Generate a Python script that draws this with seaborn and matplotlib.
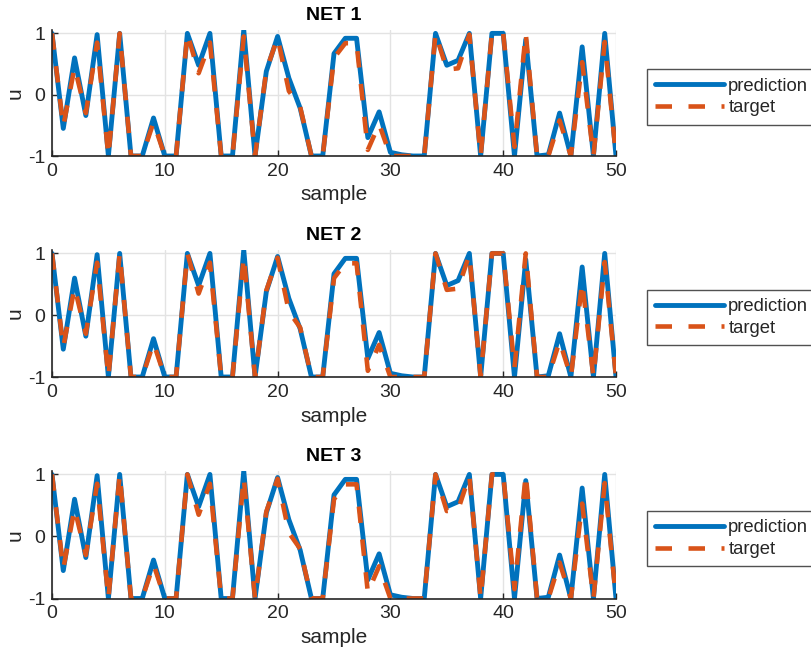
import matplotlib
matplotlib.use("Agg")
import matplotlib.pyplot as plt
import numpy as np
import pandas as pd
import seaborn as sns

# ---- data ----
net_names = ["NET 1", "NET 2", "NET 3"]
sample = list(range(51))
prediction = [1.0, -0.55, 0.6, -0.34, 0.98, -1.0, 1.0, -1.0, -1.0, -0.38,
              -1.0, -1.0, 1.0, 0.48, 1.0, -1.0, -1.0, 1.055, -1.0, 0.38,
              0.95, 0.27, -0.22, -1.0, -1.0, 0.67, 0.92, 0.92, -0.7, -0.28,
              -0.94, -0.98, -1.0, -1.0, 1.0, 0.48, 0.56, 1.0, -1.0, 1.0,
              1.0, -1.0, 0.9, -1.0, -0.98, -0.3, -1.0, 0.78, -1.0, 1.0, -1.0]
target = [1.0, -0.52, 0.45, -0.3, 0.85, -1.0, 1.0, -1.0, -1.0, -0.45,
          -1.0, -1.0, 1.0, 0.35, 0.85, -1.0, -1.0, 0.95, -1.0, 0.4,
          0.93, 0.06, -0.2, -1.0, -1.0, 0.6, 0.84, 0.84, -0.9, -0.48,
          -1.0, -1.0, -1.0, -1.0, 1.0, 0.41, 0.43, 0.98, -1.0, 1.0,
          1.0, -0.85, 1.0, -1.0, -1.0, -0.42, -1.0, 0.53, -1.0, 0.86, -1.0]
x_ticks = [0, 10, 20, 30, 40, 50]
y_ticks = [-1, 0, 1]

sns.set_theme(style="white")
plt.rcParams["font.family"] = ["Liberation Sans", "DejaVu Sans"]
plt.rcParams["axes.unicode_minus"] = False

BLUE = "#0072BD"
ORANGE = "#D95319"
AXC = "#262626"

fig = plt.figure(figsize=(8.11, 6.62), dpi=100)
W, H = 811, 662
left, right = 52, 616
panels = [(30, 156), (250, 377), (471, 598.5)]

df = pd.DataFrame({"sample": sample, "prediction": prediction, "target": target})

for name, (top, bot) in zip(net_names, panels):
    ax = fig.add_axes([left / W, 1 - bot / H, (right - left) / W, (bot - top) / H])
    sns.lineplot(data=df, x="sample", y="prediction", ax=ax, color=BLUE,
                 linewidth=3.5, label="prediction")
    sns.lineplot(data=df, x="sample", y="target", ax=ax, color=ORANGE,
                 linewidth=3.3, label="target")
    ax.lines[-1].set_dashes((3.6, 3.6))
    ax.set_xlim(0, 50)
    ax.set_ylim(-1, max(max(prediction), max(target)))
    ax.set_xticks(x_ticks)
    ax.set_yticks(y_ticks)
    ax.grid(True, color="#e3e3e3", linewidth=1)
    ax.set_axisbelow(True)
    for s in ["top", "right"]:
        ax.spines[s].set_visible(False)
    for s in ["left", "bottom"]:
        ax.spines[s].set_color(AXC)
        ax.spines[s].set_linewidth(1.2)
    ax.tick_params(axis="both", direction="in", length=4, width=1, colors=AXC,
                   labelsize=14, labelcolor=AXC, pad=5, left=True, bottom=True)
    ax.set_xlabel("sample", fontsize=15, color=AXC, labelpad=4)
    ax.set_ylabel("u", fontsize=15, color=AXC, labelpad=2)
    ax.set_title(name, fontsize=14, fontweight="bold", color="black", pad=7)
    leg = ax.legend(loc="center left",
                    bbox_to_anchor=(647 / W, 1 - ((top + bot) / 2 + 4) / H),
                    bbox_transform=fig.transFigure, borderaxespad=0,
                    frameon=True, fancybox=False, fontsize=13.3,
                    handlelength=3.7, handletextpad=0.25, borderpad=0.45,
                    labelspacing=0.25)
    leg.get_frame().set_edgecolor(AXC)
    leg.get_frame().set_linewidth(1)
    leg.get_lines()[1].set_dashes((3.6, 3.6))

fig.savefig("out.png", dpi=100)
